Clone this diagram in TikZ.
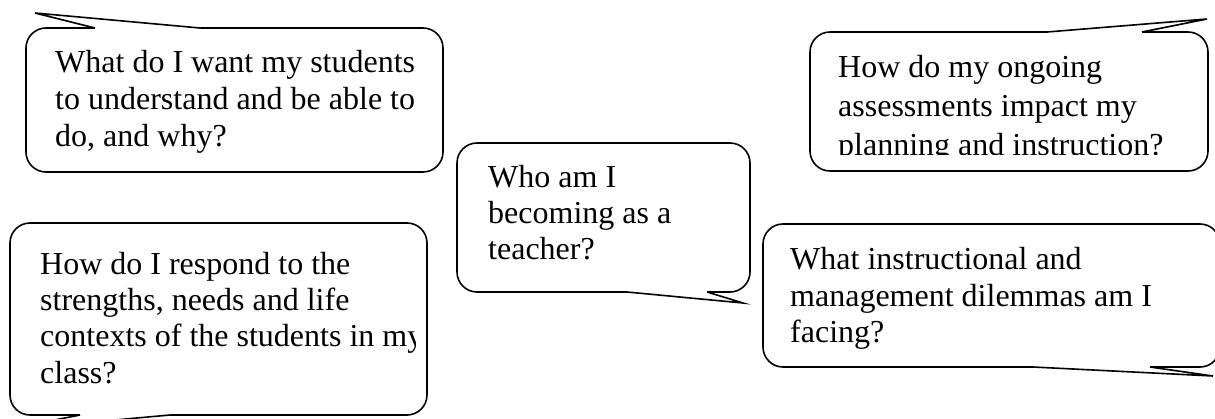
\documentclass[tikz,border=0pt]{standalone}
\usepackage{fontspec}
\setmainfont{Liberation Serif}
\begin{document}
\begin{tikzpicture}[x=1pt,y=-1pt,
  bubble/.style={draw=black, fill=white, line width=1.6pt, rounded corners=20pt},
  tailline/.style={draw=black, line width=1.6pt},
  qtext/.style={anchor=base west, inner sep=0pt, align=left, font=\fontsize{32}{36.5}\selectfont}]
\useasboundingbox (0,0) rectangle (1215,419);
\clip (0,0) rectangle (1215,419);
\fill[white] (0,0) rectangle (1215,419);

% Box 1 (top left)
\draw[bubble] (26,28) rectangle (443,172);
\coordinate (t1a) at (95,28); \coordinate (t1tip) at (35,13); \coordinate (t1b) at (200,28);
\fill[white] (95,31) -- (t1a) -- (t1tip) -- (t1b) -- (200,31) -- cycle;
\draw[tailline] (t1a) -- (t1tip) -- (t1b);
\node[qtext, font=\fontsize{32}{37}\selectfont] (q1) at (55,147) {What do I want my students\\to understand and be able to\\do, and why?};

% Box 2 (top right)
\draw[bubble] (810,32) rectangle (1208,171);
\coordinate (t2a) at (1047,32); \coordinate (t2tip) at (1207,19); \coordinate (t2b) at (1142,32);
\fill[white] (1047,35) -- (t2a) -- (t2tip) -- (t2b) -- (1142,35) -- cycle;
\draw[tailline] (t2a) -- (t2tip) -- (t2b);
\begin{scope}
\clip (812,34) rectangle (1206,155);
\node[qtext, font=\fontsize{32}{39}\selectfont] (q2) at (838,156) {How do my ongoing\\assessments impact my\\planning and instruction?};
\end{scope}

% Box 3 (centre)
\draw[bubble] (457,143) rectangle (750,292);
\coordinate (t3a) at (627,292); \coordinate (t3tip) at (743,303); \coordinate (t3b) at (707,292);
\fill[white] (627,289) -- (t3a) -- (t3tip) -- (t3b) -- (707,289) -- cycle;
\draw[tailline] (t3a) -- (t3tip) -- (t3b);
\node[qtext, font=\fontsize{32}{36}\selectfont] (q3) at (488,260) {Who am I\\becoming as a\\teacher?};

% Box 4 (bottom left)
\draw[bubble] (10,223) rectangle (427,415);
\coordinate (t4a) at (80,415); \coordinate (t4tip) at (4,430); \coordinate (t4b) at (170,415);
\fill[white] (80,412) -- (t4a) -- (t4tip) -- (t4b) -- (170,412) -- cycle;
\draw[tailline] (t4a) -- (t4tip) -- (t4b);
\begin{scope}
\clip (12,225) rectangle (415,413);
\node[qtext, font=\fontsize{32}{36.3}\selectfont] (q4) at (40,383) {How do I respond to the\\strengths, needs and life\\contexts of the students in my\\class?};
\end{scope}

% Box 5 (bottom right)
\draw[bubble] (763,224) rectangle (1220,367);
\coordinate (t5a) at (1033,367); \coordinate (t5tip) at (1213,376); \coordinate (t5b) at (1150,367);
\fill[white] (1033,364) -- (t5a) -- (t5tip) -- (t5b) -- (1150,364) -- cycle;
\draw[tailline] (t5a) -- (t5tip) -- (t5b);
\node[qtext, font=\fontsize{32}{36.5}\selectfont] (q5) at (790,343) {What instructional and\\management dilemmas am I\\facing?};
\end{tikzpicture}
\end{document}
